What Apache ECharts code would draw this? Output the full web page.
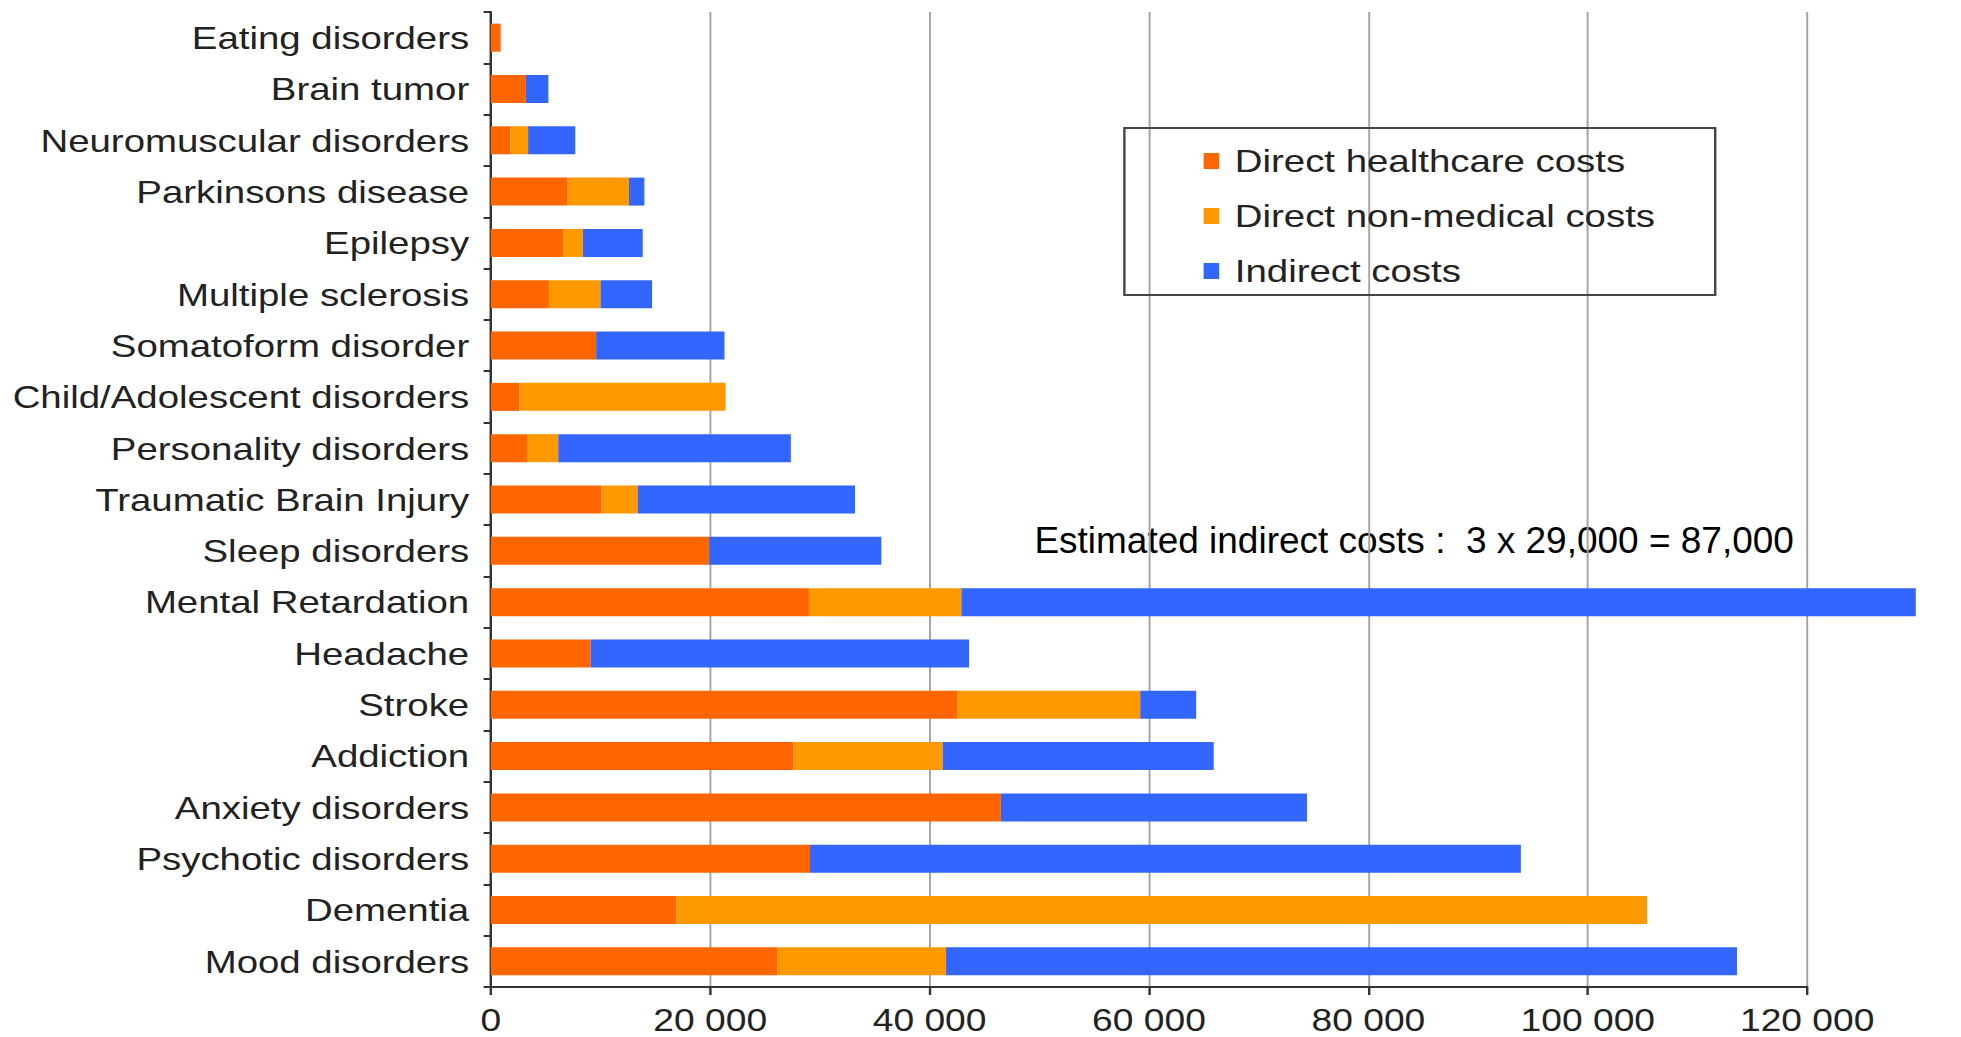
<!DOCTYPE html>
<html>
<head>
<meta charset="utf-8">
<title>Cost of brain disorders</title>
<script src="https://cdn.jsdelivr.net/npm/echarts@6/dist/echarts.min.js"></script>
<style>
  html, body { margin: 0; padding: 0; background: #fff; overflow: hidden; }
  /* the figure is laid out narrower and widened horizontally */
  #chart { width: 1634px; height: 1037px; transform: scaleX(1.2); transform-origin: 0 0; }
</style>
</head>
<body>
<div id="chart"></div>
<script>
const STRETCH = 1.2;

const categories = [
  'Eating disorders', 'Brain tumor', 'Neuromuscular disorders', 'Parkinsons disease',
  'Epilepsy', 'Multiple sclerosis', 'Somatoform disorder', 'Child/Adolescent disorders',
  'Personality disorders', 'Traumatic Brain Injury', 'Sleep disorders', 'Mental Retardation',
  'Headache', 'Stroke', 'Addiction', 'Anxiety disorders', 'Psychotic disorders',
  'Dementia', 'Mood disorders'
];

const directHealthcare = [900, 3200, 1800, 7000, 6600, 5300, 9600, 2600, 3300, 10100,
  19900, 29000, 9100, 42500, 27600, 46500, 29100, 16900, 26100];
const directNonMedical = [0, 0, 1600, 5600, 1800, 4700, 0, 18800, 2850, 3300,
  0, 13900, 0, 16700, 13600, 0, 0, 88500, 15400];
const indirectCosts = [0, 2050, 4300, 1400, 5450, 4700, 11700, 0, 21200, 19800,
  15700, 87000, 34500, 5100, 24700, 27900, 64800, 0, 72100];

const seriesNames = ['Direct healthcare costs', 'Direct non-medical costs', 'Indirect costs'];
const seriesColors = ['#ff6600', '#ff9900', '#3366ff'];
const xTicks = [0, 20000, 40000, 60000, 80000, 100000, 120000];
const note = 'Estimated indirect costs :  3 x 29,000 = 87,000';

const FONT = "'Liberation Sans', Arial, Helvetica, sans-serif";

const chart = echarts.init(document.getElementById('chart'), null, { renderer: 'svg' });

const values = [directHealthcare, directNonMedical, indirectCosts];

chart.setOption({
  animation: false,
  backgroundColor: '#ffffff',
  grid: { left: 409, right: 128, top: 12, bottom: 50, containLabel: false },
  legend: {
    orient: 'vertical',
    left: 937,
    top: 128,
    padding: [17, 50, 8, 66],
    borderColor: '#444',
    borderWidth: 2,
    itemGap: 23,
    itemWidth: 13,
    itemHeight: 16,
    icon: 'rect',
    data: seriesNames,
    textStyle: { fontFamily: FONT, fontSize: 32, color: '#222', lineHeight: 32, padding: [0, 0, 0, 8] }
  },
  xAxis: {
    type: 'value',
    min: xTicks[0],
    max: xTicks[xTicks.length - 1],
    interval: xTicks[1] - xTicks[0],
    axisLine: { show: true, lineStyle: { color: '#333', width: 2 } },
    axisTick: { show: true, length: 8, lineStyle: { color: '#333', width: 2 } },
    splitLine: { show: true, lineStyle: { color: '#a3a3a3', width: 1.6 } },
    axisLabel: {
      margin: 18,
      fontFamily: FONT,
      fontSize: 31,
      color: '#222',
      formatter: v => String(v).replace(/\B(?=(\d{3})+(?!\d))/g, ' ')
    }
  },
  yAxis: {
    type: 'category',
    data: categories,
    inverse: true,
    axisLine: { show: true, lineStyle: { color: '#333', width: 2 } },
    axisTick: { show: true, length: 6, lineStyle: { color: '#333', width: 2 } },
    splitLine: { show: false },
    axisLabel: { margin: 18, fontFamily: FONT, fontSize: 32, color: '#222' }
  },
  series: seriesNames.map((name, i) => ({
    name: name,
    type: 'bar',
    stack: 'cost',
    barWidth: 28,
    clip: false,
    itemStyle: { color: seriesColors[i] },
    data: values[i]
  })),
  graphic: [{
    type: 'text',
    x: 862,
    y: 540,
    scaleX: 1 / STRETCH,
    style: {
      text: note,
      fontFamily: FONT,
      fontSize: 37,
      fill: '#000',
      textAlign: 'left',
      textVerticalAlign: 'middle'
    }
  }]
});
</script>
</body>
</html>
